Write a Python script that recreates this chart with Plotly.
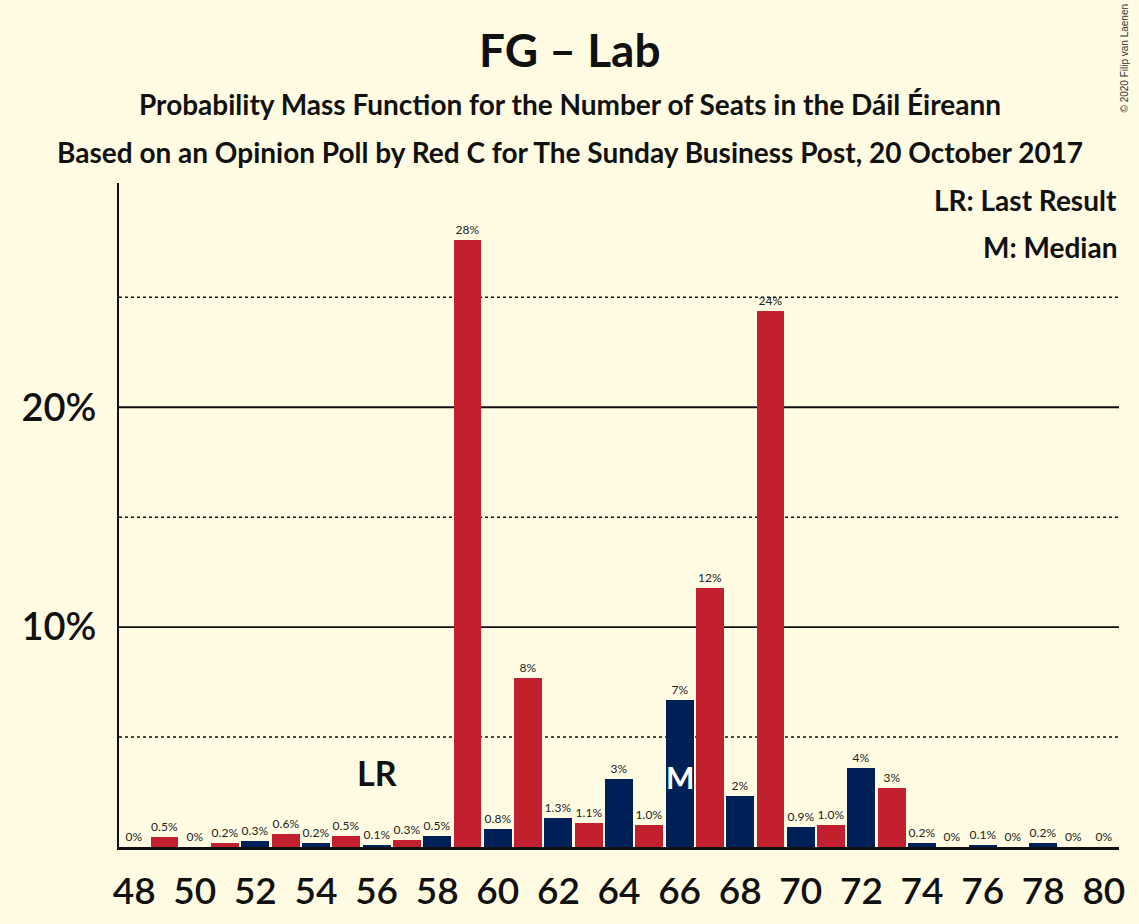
import plotly.graph_objects as go

# Seats and probability (%)
seats = list(range(48, 81))
probs = [0.0, 0.45, 0.0, 0.2, 0.26, 0.6, 0.2, 0.48, 0.1, 0.3, 0.5,
         27.6, 0.8, 7.7, 1.3, 1.1, 3.1, 1.0, 6.7, 11.8, 2.3, 24.4,
         0.9, 1.0, 3.6, 2.7, 0.2, 0.0, 0.08, 0.0, 0.2, 0.0, 0.0]
last_result = 56
median = 66
tick_seats = list(range(48, 81, 2))

RED = "#C3202F"
NAVY = "#002157"
BG = "#FFFCE3"
FONT = "Lato"
INK = "#111111"


def label(v):
    if v < 0.05:
        return "0%"
    if v < 2:
        return f"{v:.1f}%"
    return f"{v:.0f}%"


colors = [NAVY if s % 2 == 0 else RED for s in seats]

fig = go.Figure()
fig.add_trace(go.Bar(
    x=seats, y=probs, width=0.92,
    marker=dict(color=colors, line=dict(width=0)),
    text=[label(v) for v in probs],
    textposition="outside",
    textfont=dict(family=FONT, size=12, color="#222222"),
    cliponaxis=False,
))

# grid: solid at 10/20, dotted at 5/15/25
for g in [5, 15, 25]:
    fig.add_hline(y=g, line=dict(color=INK, width=1.5, dash="dot"), layer="below")
for g in [10, 20]:
    fig.add_hline(y=g, line=dict(color=INK, width=1.8), layer="below")

fig.add_annotation(x=last_result, y=3.4, text="<b>LR</b>", showarrow=False,
                   font=dict(family=FONT, size=34, color=INK))
fig.add_annotation(x=median, y=3.2, text="<b>M</b>", showarrow=False,
                   font=dict(family=FONT, size=30, color="white"))


def py(px):
    return (847 - px) / 664


def header(text, top, size, x=0.4505, xanchor="center"):
    fig.add_annotation(xref="paper", yref="paper", x=x, y=py(top), xanchor=xanchor,
                       yanchor="middle", text=text, showarrow=False,
                       font=dict(family=FONT, size=size, color=INK))


# headings are centred on the whole picture, not on the plot area
header("<b>FG – Lab</b>", 50, 46)
header("<b>Probability Mass Function for the Number of Seats in the Dáil Éireann</b>", 104, 28)
header("<b>Based on an Opinion Poll by Red C for The Sunday Business Post, 20 October 2017</b>", 152, 28)
header("<b>LR: Last Result</b>", 200, 28, x=1.0, xanchor="right")
header("<b>M: Median</b>", 247, 28, x=1.0, xanchor="right")
fig.add_annotation(xref="paper", yref="paper", x=1.012, y=py(58), yanchor="middle",
                   text="© 2020 Filip van Laenen", textangle=-90, showarrow=False,
                   font=dict(family="Liberation Sans", size=10, color="#333333"))

fig.update_layout(
    width=1139, height=924,
    paper_bgcolor=BG, plot_bgcolor=BG,
    margin=dict(l=119, r=20, t=183, b=77),
    showlegend=False, bargap=0,
    font=dict(family=FONT),
)
fig.update_xaxes(range=[47.5, 80.5], tickvals=tick_seats,
                 ticktext=[str(s) for s in tick_seats],
                 tickfont=dict(family=FONT, size=37, color=INK, weight=600), showgrid=False,
                 showline=True, linecolor=INK, linewidth=2.5, ticks="", zeroline=False,
                 ticklabelstandoff=10)
fig.update_yaxes(range=[0, 30.2], tickvals=[10, 20], ticktext=["10%", "20%"],
                 tickfont=dict(family=FONT, size=38, color=INK, weight=600), showgrid=False,
                 showline=True, linecolor=INK, linewidth=2, ticks="", zeroline=False,
                 ticklabelstandoff=13)

fig.write_html("out.html", config={"displayModeBar": False},
               post_script="document.body.style.margin='0';")
